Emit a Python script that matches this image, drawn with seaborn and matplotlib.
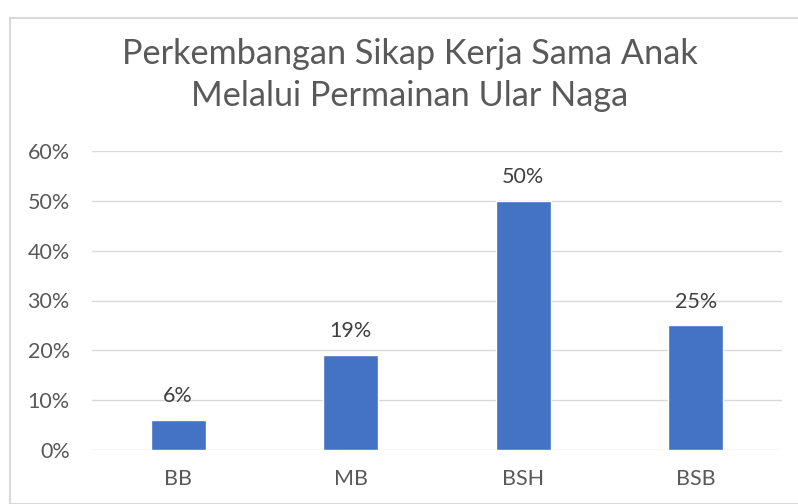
import matplotlib
matplotlib.use("Agg")

import matplotlib.pyplot as plt
import matplotlib.patches as mpatches
import pandas as pd
import seaborn as sns

CATEGORIES = ["BB", "MB", "BSH", "BSB"]
VALUES = [0.06, 0.19, 0.50, 0.25]
LABELS = ["6%", "19%", "50%", "25%"]
YTICKS = [0, 0.1, 0.2, 0.3, 0.4, 0.5, 0.6]
YTICK_LABELS = ["0%", "10%", "20%", "30%", "40%", "50%", "60%"]
TITLE = "Perkembangan Sikap Kerja Sama Anak\nMelalui Permainan Ular Naga"

BAR_COLOR = "#4472C4"
GRID_COLOR = "#D9D9D9"
TEXT_COLOR = "#595959"

sns.set_style("white")
plt.rcParams["font.family"] = ["Lato", "DejaVu Sans"]

df = pd.DataFrame({"kategori": CATEGORIES, "nilai": VALUES})

fig = plt.figure(figsize=(7.98, 5.04), dpi=100)
# chart border
fig.patches.append(mpatches.Rectangle((10 / 798, 0), 1, 1 - 18 / 504, transform=fig.transFigure,
                                      fill=False, edgecolor=GRID_COLOR, linewidth=1.5))
ax = fig.add_axes([92 / 798, 1 - 450 / 504, 690 / 798, 299 / 504])

sns.barplot(data=df, x="kategori", y="nilai", color=BAR_COLOR, width=0.32,
            saturation=1, ax=ax)

ax.set_ylim(0, 0.6)
ax.set_xlim(-0.5, 3.5)
ax.set_yticks(YTICKS)
ax.set_yticklabels(YTICK_LABELS)
ax.yaxis.grid(True, color=GRID_COLOR, linewidth=1)
ax.set_axisbelow(True)
for s in ax.spines.values():
    s.set_visible(False)
ax.set_xlabel("")
ax.set_ylabel("")
ax.tick_params(axis="both", length=0, labelsize=15.5, labelcolor=TEXT_COLOR)
ax.tick_params(axis="x", pad=14)
ax.tick_params(axis="y", pad=16)

for i, (v, lab) in enumerate(zip(VALUES, LABELS)):
    ax.annotate(lab, (i, v), xytext=(0, 10), textcoords="offset points",
                ha="center", va="bottom", fontsize=15.5, color="#404040")

fig.text(410 / 798, 1 - 75 / 504, TITLE, ha="center", va="center",
         fontsize=24.7, color=TEXT_COLOR, linespacing=1.4)

fig.savefig("out.png", dpi=100)
